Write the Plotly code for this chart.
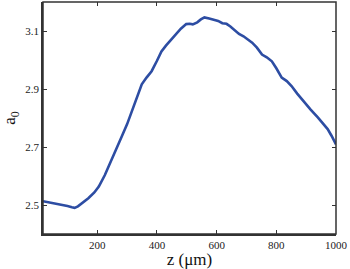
import plotly.graph_objects as go

z_um = [18, 40, 60, 80, 100, 115, 124, 135, 150, 170, 190, 205, 225, 250, 283, 300, 316, 333, 349, 365, 382, 400, 415, 430, 448, 465, 480, 498, 510, 520, 535, 547, 559, 575, 590, 605, 619, 633, 646, 660, 675, 690, 705, 719, 735, 752, 768, 785, 800, 818, 835, 851, 870, 894, 915, 939, 955, 972, 985, 1000]
a0 = [2.515, 2.511, 2.507, 2.503, 2.498, 2.494, 2.492, 2.497, 2.508, 2.525, 2.545, 2.565, 2.604, 2.66, 2.74, 2.78, 2.825, 2.872, 2.917, 2.94, 2.962, 2.998, 3.03, 3.05, 3.071, 3.09, 3.108, 3.124, 3.125, 3.123, 3.13, 3.14, 3.147, 3.143, 3.138, 3.135, 3.127, 3.125, 3.116, 3.105, 3.09, 3.082, 3.072, 3.06, 3.043, 3.019, 3.01, 2.996, 2.972, 2.94, 2.928, 2.911, 2.885, 2.854, 2.83, 2.803, 2.785, 2.763, 2.74, 2.71]

x_ticks = [200, 400, 600, 800, 1000]
y_ticks = [2.5, 2.7, 2.9, 3.1]
x_range = [18, 1000]
y_range = [2.402, 3.2]

SERIF = "Liberation Serif"

fig = go.Figure()
fig.add_trace(go.Scatter(x=z_um, y=a0, mode="lines",
                         line=dict(color="#2d4da3", width=2.6), showlegend=False,
                         hoverinfo="skip"))

tick_common = dict(showgrid=False, zeroline=False, ticks="inside", ticklen=4,
                   tickcolor="#333333", tickwidth=1)

fig.update_layout(
    xaxis=dict(range=x_range, tickvals=x_ticks, showline=True, linecolor="#333333", linewidth=1.5,
               ticklabeloverflow="allow", tickfont=dict(family=SERIF, size=11, color="#222222"),
               title=dict(text="z (μm)", font=dict(family=SERIF, size=17, color="#111111"), standoff=4),
               **tick_common),
    yaxis=dict(range=y_range, tickvals=y_ticks, tickformat=".1f", showline=True, linecolor="#333333",
               linewidth=1.5, tickfont=dict(family=SERIF, size=11, color="#222222"),
               title=dict(text="a<sub>0</sub>", font=dict(family=SERIF, size=17, color="#111111"), standoff=10),
               **tick_common),
    xaxis2=dict(range=x_range, tickvals=x_ticks, overlaying="x", side="top", anchor="y",
                showticklabels=False, **tick_common),
    yaxis2=dict(range=y_range, tickvals=y_ticks, overlaying="y", side="right", anchor="x",
                showticklabels=False, **tick_common),
)
# invisible helper trace so the mirrored axes are drawn
fig.add_trace(go.Scatter(x=[z_um[0]], y=[a0[0]], xaxis="x2", yaxis="y2", mode="markers",
                         marker=dict(opacity=0), showlegend=False, hoverinfo="skip"))

fig.add_shape(type="rect", xref="paper", yref="paper", x0=0, x1=1, y0=0, y1=1,
              line=dict(color="#333333", width=1.5), fillcolor="rgba(0,0,0,0)", layer="above")

fig.update_layout(width=350, height=269, margin=dict(l=43, r=10, t=2, b=35),
                  plot_bgcolor="white", paper_bgcolor="white",
                  font=dict(family=SERIF))
fig.write_html("out.html", config={"displayModeBar": False},
               post_script="document.body.style.margin='0';")
